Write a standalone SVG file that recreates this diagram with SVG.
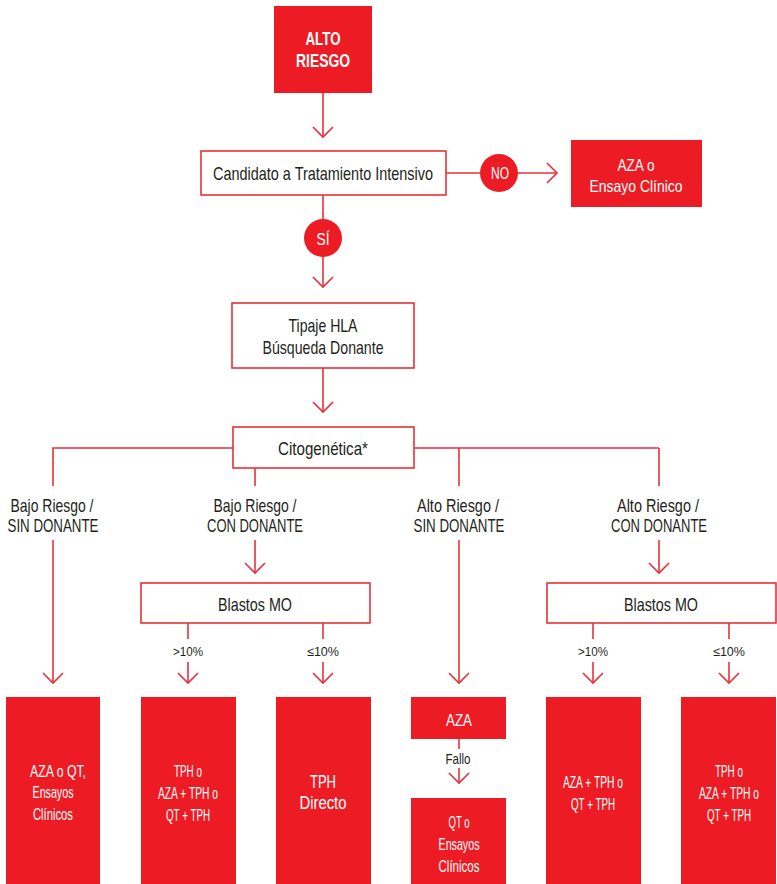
<svg xmlns="http://www.w3.org/2000/svg" width="777" height="884" viewBox="0 0 777 884">
<style>
.rf{fill:#ED1C24}
.ob{fill:#fff;stroke:#E8303A;stroke-width:1.6}
.ln{fill:none;stroke:#E8303A;stroke-width:1.6}
.t{font-family:"Liberation Sans",Arial,sans-serif;font-size:19px;fill:#231F20;text-anchor:middle}
.w{fill:#fff}
.b{font-weight:bold;font-size:18.5px}
.s{font-size:13px}
.f{font-size:15px}
.m{font-size:17px}
.l{font-size:19px}
</style>
<defs>
<marker id="chev" markerUnits="userSpaceOnUse" markerWidth="24" markerHeight="24" viewBox="-12 -12 24 24" refX="0" refY="0" orient="auto">
<path d="M-10,-10 L0,0 L-10,10" fill="none" stroke="#E8303A" stroke-width="1.6"/>
</marker>
</defs>
<g id="connectors">
<line class="ln" x1="323" y1="93" x2="323" y2="137" marker-end="url(#chev)"/>
<line class="ln" x1="446" y1="173" x2="557" y2="173" marker-end="url(#chev)"/>
<line class="ln" x1="323" y1="195" x2="323" y2="287" marker-end="url(#chev)"/>
<line class="ln" x1="323" y1="368" x2="323" y2="412" marker-end="url(#chev)"/>
<polyline class="ln" points="233,448 53,448 53,486"/>
<line class="ln" x1="414" y1="448" x2="659" y2="448"/>
<line class="ln" x1="255" y1="468" x2="255" y2="486"/>
<line class="ln" x1="459" y1="448" x2="459" y2="486"/>
<line class="ln" x1="659" y1="448" x2="659" y2="486"/>
<line class="ln" x1="53" y1="540" x2="53" y2="683" marker-end="url(#chev)"/>
<line class="ln" x1="255" y1="540" x2="255" y2="573" marker-end="url(#chev)"/>
<line class="ln" x1="459" y1="540" x2="459" y2="683" marker-end="url(#chev)"/>
<line class="ln" x1="659" y1="540" x2="659" y2="573" marker-end="url(#chev)"/>
<line class="ln" x1="188" y1="623" x2="188" y2="639"/>
<line class="ln" x1="188" y1="662" x2="188" y2="683" marker-end="url(#chev)"/>
<line class="ln" x1="323" y1="623" x2="323" y2="639"/>
<line class="ln" x1="323" y1="662" x2="323" y2="683" marker-end="url(#chev)"/>
<line class="ln" x1="593" y1="623" x2="593" y2="639"/>
<line class="ln" x1="593" y1="662" x2="593" y2="683" marker-end="url(#chev)"/>
<line class="ln" x1="729" y1="623" x2="729" y2="639"/>
<line class="ln" x1="729" y1="662" x2="729" y2="683" marker-end="url(#chev)"/>
<line class="ln" x1="459" y1="739" x2="459" y2="749"/>
<line class="ln" x1="459" y1="768" x2="459" y2="783" marker-end="url(#chev)"/>
</g>
<g id="alto-riesgo">
<rect class="rf" x="274" y="6" width="98" height="87"/>
<text class="t w b" x="323" y="45" textLength="35" lengthAdjust="spacingAndGlyphs">ALTO</text>
<text class="t w b" x="323" y="67" textLength="54" lengthAdjust="spacingAndGlyphs">RIESGO</text>
</g>
<g id="candidato">
<rect class="ob" x="201" y="151" width="245" height="44"/>
<text class="t" x="323" y="180" textLength="220" lengthAdjust="spacingAndGlyphs">Candidato a Tratamiento Intensivo</text>
</g>
<g id="no">
<circle class="rf" cx="499" cy="173" r="19"/>
<text class="t w m" x="500" y="179" textLength="18" lengthAdjust="spacingAndGlyphs">NO</text>
</g>
<g id="aza-ensayo">
<rect class="rf" x="571" y="140" width="131" height="67"/>
<text class="t w m" x="636" y="171" textLength="37" lengthAdjust="spacingAndGlyphs">AZA o</text>
<text class="t w m" x="636" y="192" textLength="93" lengthAdjust="spacingAndGlyphs">Ensayo Clínico</text>
</g>
<g id="si">
<circle class="rf" cx="323" cy="238" r="19"/>
<text class="t w m" x="323" y="245" textLength="13" lengthAdjust="spacingAndGlyphs">SÍ</text>
</g>
<g id="tipaje">
<rect class="ob" x="232" y="303" width="182" height="65"/>
<text class="t" x="323" y="332" textLength="69" lengthAdjust="spacingAndGlyphs">Tipaje HLA</text>
<text class="t" x="323" y="354" textLength="121" lengthAdjust="spacingAndGlyphs">Búsqueda Donante</text>
</g>
<g id="citogenetica">
<rect class="ob" x="233" y="427" width="181" height="41"/>
<text class="t" x="323" y="455" textLength="90" lengthAdjust="spacingAndGlyphs">Citogenética*</text>
</g>
<g id="lbl-bajo-sin">
<text class="t" x="52" y="512" textLength="83" lengthAdjust="spacingAndGlyphs">Bajo Riesgo /</text>
<text class="t" x="53" y="532" textLength="91" lengthAdjust="spacingAndGlyphs">SIN DONANTE</text>
</g>
<g id="lbl-bajo-con">
<text class="t" x="255" y="512" textLength="83" lengthAdjust="spacingAndGlyphs">Bajo Riesgo /</text>
<text class="t" x="255" y="532" textLength="96" lengthAdjust="spacingAndGlyphs">CON DONANTE</text>
</g>
<g id="lbl-alto-sin">
<text class="t" x="458" y="512" textLength="82" lengthAdjust="spacingAndGlyphs">Alto Riesgo /</text>
<text class="t" x="459" y="532" textLength="91" lengthAdjust="spacingAndGlyphs">SIN DONANTE</text>
</g>
<g id="lbl-alto-con">
<text class="t" x="658" y="512" textLength="82" lengthAdjust="spacingAndGlyphs">Alto Riesgo /</text>
<text class="t" x="659" y="532" textLength="96" lengthAdjust="spacingAndGlyphs">CON DONANTE</text>
</g>
<g id="blastos-1">
<rect class="ob" x="141" y="583" width="229" height="40"/>
<text class="t" x="255" y="611" textLength="74" lengthAdjust="spacingAndGlyphs">Blastos MO</text>
<text class="t s" x="188" y="656" textLength="30" lengthAdjust="spacingAndGlyphs">&gt;10%</text>
<text class="t s" x="323" y="656" textLength="32" lengthAdjust="spacingAndGlyphs">≤10%</text>
</g>
<g id="blastos-2">
<rect class="ob" x="547" y="583" width="229" height="40"/>
<text class="t" x="661" y="611" textLength="74" lengthAdjust="spacingAndGlyphs">Blastos MO</text>
<text class="t s" x="593" y="656" textLength="30" lengthAdjust="spacingAndGlyphs">&gt;10%</text>
<text class="t s" x="729" y="656" textLength="32" lengthAdjust="spacingAndGlyphs">≤10%</text>
</g>
<g id="box-aza-qt">
<rect class="rf" x="6" y="697" width="94" height="187"/>
<text class="t w m" x="58" y="777" textLength="56" lengthAdjust="spacingAndGlyphs">AZA o QT,</text>
<text class="t w m" x="53" y="798" textLength="41" lengthAdjust="spacingAndGlyphs">Ensayos</text>
<text class="t w m" x="53" y="820" textLength="40" lengthAdjust="spacingAndGlyphs">Clínicos</text>
</g>
<g id="box-tph-1">
<rect class="rf" x="141" y="697" width="95" height="187"/>
<text class="t w m" x="188" y="777" textLength="28" lengthAdjust="spacingAndGlyphs">TPH o</text>
<text class="t w m" x="188" y="799" textLength="60" lengthAdjust="spacingAndGlyphs">AZA + TPH o</text>
<text class="t w m" x="188" y="821" textLength="44" lengthAdjust="spacingAndGlyphs">QT + TPH</text>
</g>
<g id="box-tph-directo">
<rect class="rf" x="276" y="697" width="95" height="187"/>
<text class="t w l" x="323" y="788" textLength="26" lengthAdjust="spacingAndGlyphs">TPH</text>
<text class="t w l" x="323" y="809" textLength="47" lengthAdjust="spacingAndGlyphs">Directo</text>
</g>
<g id="box-aza">
<rect class="rf" x="411" y="697" width="95" height="42"/>
<text class="t w m" x="459" y="726" textLength="26" lengthAdjust="spacingAndGlyphs">AZA</text>
</g>
<g id="lbl-fallo">
<text class="t f" x="458" y="764" textLength="25" lengthAdjust="spacingAndGlyphs">Fallo</text>
</g>
<g id="box-qt-ensayos">
<rect class="rf" x="411" y="798" width="95" height="86"/>
<text class="t w m" x="459" y="828" textLength="21" lengthAdjust="spacingAndGlyphs">QT o</text>
<text class="t w m" x="459" y="850" textLength="41" lengthAdjust="spacingAndGlyphs">Ensayos</text>
<text class="t w m" x="459" y="872" textLength="41" lengthAdjust="spacingAndGlyphs">Clínicos</text>
</g>
<g id="box-aza-tph">
<rect class="rf" x="546" y="697" width="95" height="187"/>
<text class="t w m" x="593" y="788" textLength="60" lengthAdjust="spacingAndGlyphs">AZA + TPH o</text>
<text class="t w m" x="593" y="810" textLength="44" lengthAdjust="spacingAndGlyphs">QT + TPH</text>
</g>
<g id="box-tph-2">
<rect class="rf" x="681" y="697" width="95" height="187"/>
<text class="t w m" x="729" y="777" textLength="28" lengthAdjust="spacingAndGlyphs">TPH o</text>
<text class="t w m" x="729" y="799" textLength="60" lengthAdjust="spacingAndGlyphs">AZA + TPH o</text>
<text class="t w m" x="729" y="821" textLength="44" lengthAdjust="spacingAndGlyphs">QT + TPH</text>
</g>
</svg>
